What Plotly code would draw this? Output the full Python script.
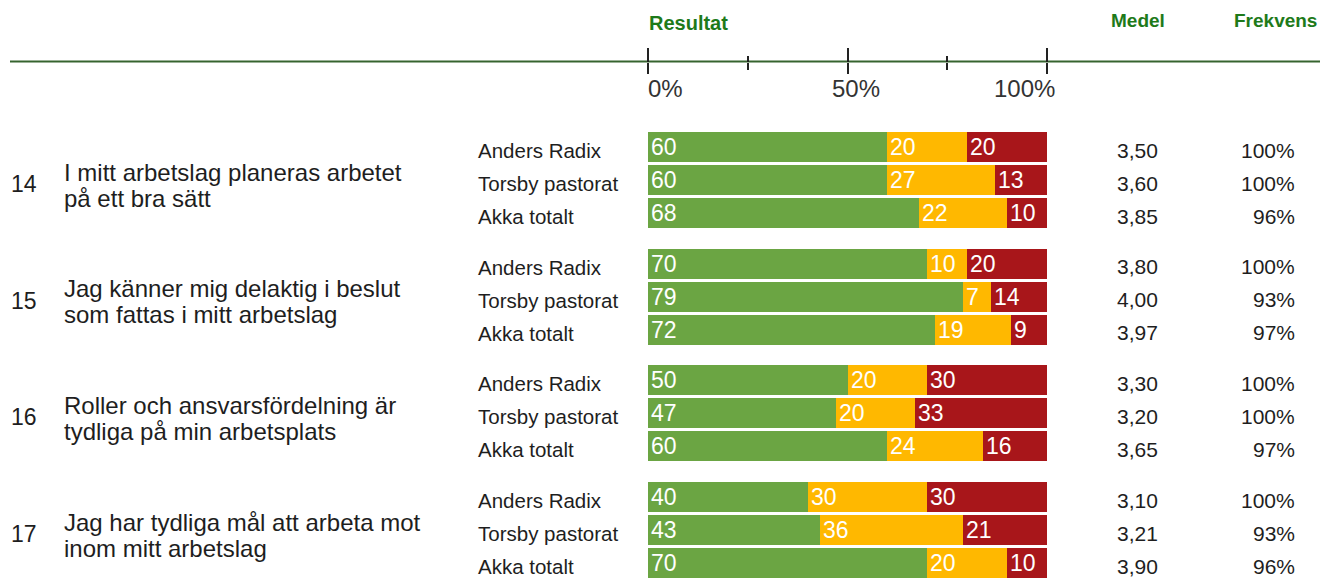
import plotly.graph_objects as go

W, H = 1322, 578

question_numbers = ["14", "15", "16", "17"]
question_line1 = [
    "I mitt arbetslag planeras arbetet",
    "Jag känner mig delaktig i beslut",
    "Roller och ansvarsfördelning är",
    "Jag har tydliga mål att arbeta mot",
]
question_line2 = [
    "på ett bra sätt",
    "som fattas i mitt arbetslag",
    "tydliga på min arbetsplats",
    "inom mitt arbetslag",
]
groups = ["Anders Radix", "Torsby pastorat", "Akka totalt"]

green_vals = [60, 60, 68, 70, 79, 72, 50, 47, 60, 40, 43, 70]
yellow_vals = [20, 27, 22, 10, 7, 19, 20, 20, 24, 30, 36, 20]
red_vals = [20, 13, 10, 20, 14, 9, 30, 33, 16, 30, 21, 10]
medel = ["3,50", "3,60", "3,85", "3,80", "4,00", "3,97", "3,30", "3,20", "3,65", "3,10", "3,21", "3,90"]
frekvens = ["100%", "100%", "96%", "100%", "93%", "97%", "100%", "100%", "97%", "100%", "93%", "96%"]

major_ticks = [0, 50, 100]
minor_ticks = [25, 75]
tick_labels = ["0%", "50%", "100%"]

GREEN = "#6BA543"
YELLOW = "#FFB800"
RED = "#A8161A"
HEAD = "#1E7A1A"
TXT = "#1e1e1e"
FONT = "Liberation Sans, Arial, sans-serif"

# layout of rows in pixel units
def row_center(i):
    g, r = divmod(i, 3)
    return 147 + g * 116.7 + r * 33

ys = [row_center(i) for i in range(len(green_vals))]

fig = go.Figure()
for vals, col in [(green_vals, GREEN), (yellow_vals, YELLOW), (red_vals, RED)]:
    fig.add_trace(go.Bar(
        x=vals, y=ys, orientation="h", marker=dict(color=col, line=dict(width=0)),
        width=30, text=[str(v) for v in vals], textposition="inside",
        insidetextanchor="start", textangle=0, constraintext="none",
        textfont=dict(color="white", size=23, family=FONT),
        hoverinfo="skip", showlegend=False,
    ))

line_y = 61.5
pos = 1 - line_y / H
x0, x1 = 648 / W, 1047 / W

annotations = []
# headers
annotations.append(dict(x=647 / W, y=23, xref="paper", yref="y", text="<b>Resultat</b>",
                        xanchor="left", yanchor="middle", showarrow=False,
                        font=dict(size=20, color=HEAD, family=FONT)))
annotations.append(dict(x=1138 / W, y=20, xref="paper", yref="y", text="<b>Medel</b>",
                        xanchor="center", yanchor="middle", showarrow=False,
                        font=dict(size=19, color=HEAD, family=FONT)))
annotations.append(dict(x=1319 / W, y=20, xref="paper", yref="y", text="<b>Frekvens</b>",
                        xanchor="right", yanchor="middle", showarrow=False,
                        font=dict(size=19, color=HEAD, family=FONT)))
# tick labels
anchors = ["left", "center", "right"]
shifts = [-2, 8, 10]
for v, lab, a, s in zip(major_ticks, tick_labels, anchors, shifts):
    annotations.append(dict(x=v, y=88, xref="x", yref="y", text=lab, xanchor=a,
                            yanchor="middle", xshift=s, showarrow=False,
                            font=dict(size=24, color="#333333", family=FONT)))
# rows
for i, y in enumerate(ys):
    annotations.append(dict(x=476 / W, y=y + 3.5, xref="paper", yref="y", text=groups[i % 3],
                            xanchor="left", yanchor="middle", showarrow=False,
                            font=dict(size=20.5, color=TXT, family=FONT)))
    annotations.append(dict(x=1137 / W, y=y + 3, xref="paper", yref="y", text=medel[i],
                            xanchor="center", yanchor="middle", showarrow=False,
                            font=dict(size=21, color=TXT, family=FONT)))
    annotations.append(dict(x=1297 / W, y=y + 3, xref="paper", yref="y", text=frekvens[i],
                            xanchor="right", yanchor="middle", showarrow=False,
                            font=dict(size=21, color=TXT, family=FONT)))
for g, num in enumerate(question_numbers):
    ym = ys[g * 3 + 1]
    annotations.append(dict(x=9 / W, y=ym + 4, xref="paper", yref="y", text=num,
                            xanchor="left", yanchor="middle", showarrow=False,
                            font=dict(size=23, color=TXT, family=FONT)))
    annotations.append(dict(x=62 / W, y=ym - 8, xref="paper", yref="y", text=question_line1[g],
                            xanchor="left", yanchor="middle", showarrow=False,
                            font=dict(size=24, color=TXT, family=FONT)))
    annotations.append(dict(x=62 / W, y=ym + 18, xref="paper", yref="y", text=question_line2[g],
                            xanchor="left", yanchor="middle", showarrow=False,
                            font=dict(size=24, color=TXT, family=FONT)))

shapes = [dict(type="line", xref="paper", yref="y", x0=10 / W, x1=1320 / W,
               y0=line_y, y1=line_y, line=dict(color="#36642F", width=2), layer="below")]

fig.update_layout(
    width=W, height=H, margin=dict(l=0, r=0, t=0, b=0),
    paper_bgcolor="white", plot_bgcolor="white",
    barmode="stack", bargap=0,
    xaxis=dict(domain=[x0, x1], range=[0, 100], anchor="free", position=pos, side="bottom",
               showgrid=False, zeroline=False, showline=False, showticklabels=False,
               tickmode="array", tickvals=major_ticks, ticks="outside", ticklen=11,
               tickwidth=2, tickcolor="#222222",
               minor=dict(tickmode="array", tickvals=minor_ticks, ticks="outside", ticklen=7,
                          tickwidth=2, tickcolor="#222222", showgrid=False)),
    xaxis2=dict(domain=[x0, x1], range=[0, 100], overlaying="x", anchor="free", position=pos,
                side="top", showgrid=False, zeroline=False, showline=False,
                showticklabels=False, tickmode="array", tickvals=major_ticks,
                ticks="outside", ticklen=14, tickwidth=2, tickcolor="#222222",
                minor=dict(tickmode="array", tickvals=minor_ticks, ticks="outside", ticklen=6,
                           tickwidth=2, tickcolor="#222222", showgrid=False)),
    yaxis=dict(domain=[0, 1], range=[H, 0], visible=False, showgrid=False, zeroline=False),
    annotations=annotations, shapes=shapes,
)

# invisible trace to show the second axis
fig.add_trace(go.Scatter(x=[0, 100], y=[-100, -100], xaxis="x2", mode="markers",
                         marker=dict(opacity=0), hoverinfo="skip", showlegend=False))

fig.write_html("out.html", config={"displayModeBar": False},
               post_script="document.body.style.margin='0px';")
